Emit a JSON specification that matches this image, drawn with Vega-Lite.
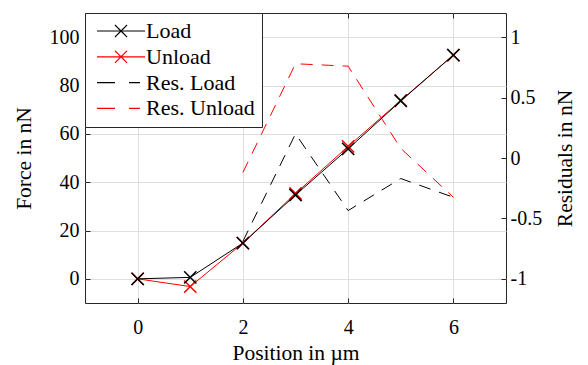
{
  "$schema": "https://vega.github.io/schema/vega-lite/v6.json",
  "width": 421,
  "height": 290,
  "autosize": {"type": "none"},
  "padding": {"left": 85, "top": 13, "right": 82, "bottom": 62},
  "background": "white",
  "config": {
    "font": "Times New Roman, Liberation Serif, DejaVu Serif, serif",
    "view": {"stroke": "#262626", "strokeWidth": 1},
    "style": {
      "guide-label": {"font": "Times New Roman, Liberation Serif, DejaVu Serif, serif"},
      "guide-title": {"font": "Times New Roman, Liberation Serif, DejaVu Serif, serif"}
    },
    "axis": {
      "domain": false,
      "labelFont": "Times New Roman, Liberation Serif, DejaVu Serif, serif",
      "titleFont": "Times New Roman, Liberation Serif, DejaVu Serif, serif",
      "labelFontSize": 20,
      "titleFontSize": 21.5,
      "labelColor": "black",
      "titleColor": "black",
      "titleFontWeight": "normal",
      "tickColor": "#262626",
      "tickSize": -5,
      "labelPadding": 8,
      "gridColor": "#dfdfdf",
      "gridWidth": 1,
      "gridOpacity": 1
    }
  },
  "datasets": {
    "force": [
      {"x": 0, "f": 0, "series": "Unload"},
      {"x": 1, "f": -3.2, "series": "Unload"},
      {"x": 2, "f": 14.8, "series": "Unload"},
      {"x": 3, "f": 35.3, "series": "Unload"},
      {"x": 4, "f": 54.8, "series": "Unload"},
      {"x": 5, "f": 73.8, "series": "Unload"},
      {"x": 6, "f": 92.6, "series": "Unload"},
      {"x": 0, "f": 0, "series": "Load"},
      {"x": 1, "f": 0.6, "series": "Load"},
      {"x": 2, "f": 14.8, "series": "Load"},
      {"x": 3, "f": 34.7, "series": "Load"},
      {"x": 4, "f": 53.8, "series": "Load"},
      {"x": 5, "f": 73.6, "series": "Load"},
      {"x": 6, "f": 92.6, "series": "Load"}
    ],
    "res": [
      {"x": 2, "r": -0.12, "series": "Res. Unload"},
      {"x": 3, "r": 0.78, "series": "Res. Unload"},
      {"x": 4, "r": 0.76, "series": "Res. Unload"},
      {"x": 5, "r": 0.08, "series": "Res. Unload"},
      {"x": 6, "r": -0.325, "series": "Res. Unload"},
      {"x": 2, "r": -0.69, "series": "Res. Load"},
      {"x": 3, "r": 0.2, "series": "Res. Load"},
      {"x": 4, "r": -0.435, "series": "Res. Load"},
      {"x": 5, "r": -0.17, "series": "Res. Load"},
      {"x": 6, "r": -0.325, "series": "Res. Load"}
    ]
  },
  "layer": [
    {
      "data": {"name": "res"},
      "mark": {"type": "line", "strokeDash": [12, 9], "strokeWidth": 1},
      "encoding": {
        "x": {
          "field": "x", "type": "quantitative",
          "scale": {"domain": [-1, 7], "nice": false, "zero": false},
          "axis": {"orient": "top", "values": [0, 2, 4, 6], "labels": false, "title": null, "grid": false}
        },
        "y": {
          "field": "r", "type": "quantitative",
          "scale": {"domain": [-1.2, 1.2], "nice": false, "zero": false},
          "axis": {
            "orient": "right", "values": [-1, -0.5, 0, 0.5, 1],
            "labelExpr": "'' + datum.value",
            "labelFont": "Times New Roman, Liberation Serif, DejaVu Serif, serif",
            "titleFont": "Times New Roman, Liberation Serif, DejaVu Serif, serif",
            "labelPadding": 9,
            "title": "Residuals in nN", "titleAngle": -90, "titleBaseline": "top",
            "titlePadding": 13, "grid": false
          }
        },
        "color": {
          "field": "series", "type": "nominal",
          "scale": {"domain": ["Load", "Unload", "Res. Load", "Res. Unload"], "range": ["black", "#ff0000", "black", "#ff0000"]},
          "legend": {
            "title": null,
            "orient": "top-left",
            "offset": 0,
            "padding": 7,
            "labelOffset": 32,
            "labelFontSize": 22,
            "labelFont": "Times New Roman, Liberation Serif, DejaVu Serif, serif",
            "labelColor": "black",
            "strokeColor": "#262626",
            "fillColor": "white",
            "rowPadding": 3.8,
            "symbolSize": 144,
            "symbolStrokeWidth": 1.2,
            "encode": {
              "symbols": {
                "update": {
                  "shape": {"signal": "indexof(['Load','Unload'], datum.value) >= 0 ? 'M-1,0H7M2,-1L4,1M2,1L4,-1' : 'M-1,0H2M4.33,0H6.17'"},
                  "fill": {"value": "transparent"},
                  "strokeDash": {"value": [1, 0]},
                  "opacity": {"value": 1}
                }
              }
            }
          }
        }
      }
    },
    {
      "data": {"name": "force"},
      "encoding": {
        "x": {
          "field": "x", "type": "quantitative",
          "scale": {"domain": [-1, 7], "nice": false, "zero": false},
          "axis": {
            "orient": "bottom", "values": [0, 2, 4, 6], "title": "Position in µm", "grid": true,
            "labelFont": "Times New Roman, Liberation Serif, DejaVu Serif, serif",
            "titleFont": "Times New Roman, Liberation Serif, DejaVu Serif, serif",
            "labelPadding": 19, "titlePadding": 5
          }
        },
        "y": {
          "field": "f", "type": "quantitative",
          "scale": {"domain": [-10, 110], "nice": false, "zero": false},
          "axis": {
            "orient": "left", "values": [0, 20, 40, 60, 80, 100], "title": "Force in nN", "grid": true,
            "labelFont": "Times New Roman, Liberation Serif, DejaVu Serif, serif",
            "titleFont": "Times New Roman, Liberation Serif, DejaVu Serif, serif",
            "labelPadding": 11, "titlePadding": 14
          }
        },
        "color": {"field": "series", "type": "nominal"}
      },
      "layer": [
        {"mark": {"type": "line", "strokeWidth": 1}},
        {"mark": {"type": "point", "shape": "M-1,-1L1,1M-1,1L1,-1", "size": 150, "filled": false, "strokeWidth": 1.5, "opacity": 1}}
      ]
    }
  ],
  "resolve": {"scale": {"y": "independent"}, "axis": {"x": "independent", "y": "independent"}}
}
